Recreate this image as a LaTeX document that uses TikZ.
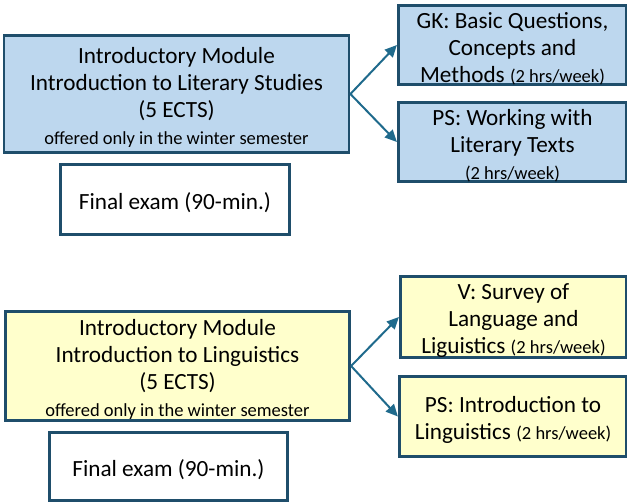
\documentclass[tikz,border=0pt]{standalone}
\usepackage{fontspec}
\setmainfont{Carlito}
\usetikzlibrary{arrows.meta}
\definecolor{boxline}{HTML}{1F4E6B}
\definecolor{arrowblue}{HTML}{1F6A8C}
\definecolor{litblue}{HTML}{BDD7EE}
\definecolor{lingyellow}{HTML}{FFFFCC}
\newcommand{\hrsfont}{\fontsize{18.5}{22}\selectfont}
\newcommand{\topstrut}{\rule{0pt}{23pt}}
\tikzset{
  modbox/.style={draw=boxline,line width=2.8pt,inner sep=0pt,align=center,
    font=\fontsize{23.2}{27}\selectfont},
  litbox/.style={modbox,fill=litblue},
  lingbox/.style={modbox,fill=lingyellow},
  exambox/.style={modbox,fill=white},
  toarrow/.style={draw=arrowblue,line width=2pt,-{Triangle[length=12pt,width=11pt]}}
}

\begin{document}
\begin{tikzpicture}[x=1pt,y=-1pt]
  \useasboundingbox (0,0) rectangle (627,503);
  % literary studies
  \node[litbox,minimum width=345pt,minimum height=116.4pt] (lit) at (176.5,94)
    {\topstrut Introductory Module\\Introduction to Literary Studies\\(5 ECTS)\\{\hrsfont offered only in the winter semester}};
  \node[litbox,minimum width=228.4pt,minimum height=75.4pt] (gk) at (512.5,45)
    {\topstrut GK: Basic Questions,\\Concepts and\\Methods {\hrsfont (2 hrs/week)}};
  \node[litbox,minimum width=228.4pt,minimum height=75.4pt] (pslit) at (512.5,142)
    {\topstrut PS: Working with\\Literary Texts\\{\hrsfont (2 hrs/week)}};
  \node[exambox,minimum width=229.4pt,minimum height=70.4pt] (examlit) at (175,199.5)
    {\topstrut Final exam (90-min.)};
  \draw[toarrow] (lit.east) -- (gk.west);
  \draw[toarrow] (lit.east) -- (pslit.west);
  % linguistics
  \node[lingbox,minimum width=344.4pt,minimum height=109.4pt] (ling) at (177.5,366)
    {\topstrut Introductory Module\\Introduction to Linguistics\\(5 ECTS)\\{\hrsfont offered only in the winter semester}};
  \node[lingbox,minimum width=226.4pt,minimum height=77.4pt] (survey) at (513.5,317)
    {\topstrut V: Survey of\\Language and\\Liguistics {\hrsfont (2 hrs/week)}};
  \node[lingbox,minimum width=227.4pt,minimum height=80.4pt] (psling) at (513,416.5)
    {\topstrut PS: Introduction to\\Linguistics {\hrsfont (2 hrs/week)}};
  \node[exambox,minimum width=238.4pt,minimum height=68.4pt] (examling) at (168.5,466.5)
    {\topstrut Final exam (90-min.)};
  \draw[toarrow] (ling.east) -- (survey.west);
  \draw[toarrow] (ling.east) -- (psling.west);
\end{tikzpicture}
\end{document}
